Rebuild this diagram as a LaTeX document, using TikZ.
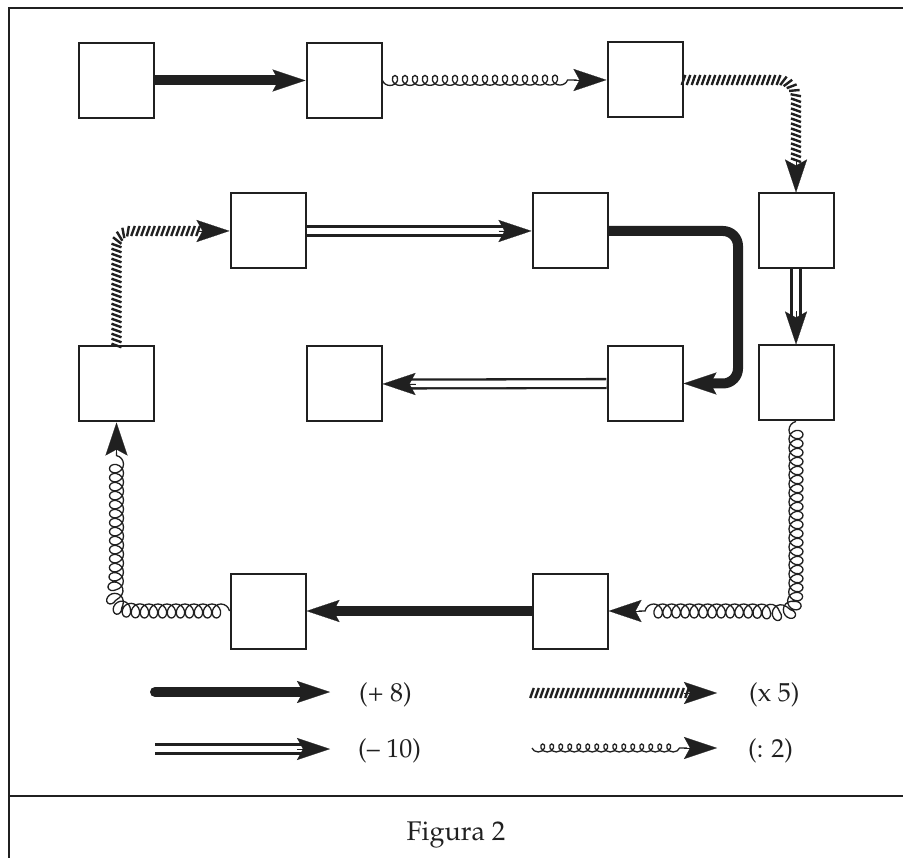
\documentclass[tikz,border=0pt]{standalone}
\usepackage[T1]{fontenc}
\renewcommand{\rmdefault}{ppl}
\usetikzlibrary{arrows.meta,decorations.pathmorphing,decorations.markings,calc}

\definecolor{ink}{RGB}{32,32,32}

\begin{document}
\begin{tikzpicture}[x=1pt,y=-1pt,
  box/.style={draw=ink, line width=2pt, minimum width=75pt, minimum height=75pt,
              inner sep=0pt, fill=white},
  frameline/.style={draw=ink, line width=2pt},
  % (+ 8): heavy bar
  plus/.style={draw=ink, line width=10pt},
  % (- 10): hollow double bar
  dbl/.style={draw=ink, line width=2.3pt, double=white, double distance=6.5pt},
  % (: 2): spring
  coilA/.style={draw=ink, line width=1.3pt, decorate,
                decoration={coil, mirror, amplitude=5pt, segment length=10pt, aspect=1}},
  coilB/.style={draw=ink, line width=1.3pt, decorate,
                decoration={coil, mirror, amplitude=7pt, segment length=9pt, aspect=0.9}},
  coilC/.style={draw=ink, line width=1.3pt, decorate,
                decoration={coil, mirror, amplitude=4pt, segment length=9pt, aspect=1}},
  % (x 5): row of slanted strokes
  hatch/.style={decorate, decoration={markings,
                mark=between positions 0 and 1 step 5pt with
                {\draw[ink, line width=2.4pt] (-1.8pt,-5pt) -- (1.8pt,5pt);}}},
  tip/.style={draw=ink, fill=ink, line width=0.2pt,
              -{Stealth[length=33pt, width=22pt, inset=6pt]}},
  lbl/.style={text=ink, font=\fontsize{26}{30}\selectfont, inner sep=0pt},
  caption/.style={text=ink, font=\fontsize{27}{32}\selectfont, inner sep=0pt}
]
\useasboundingbox (0,0) rectangle (903,858);
\fill[white] (0,0) rectangle (903,858);

% frame and caption rule
\draw[frameline] (903,8) -- (9,8) -- (9,858);
\draw[frameline] (9,796) -- (903,796);

% boxes
\node[box] (b1)  at (116.5,80.5) {};
\node[box] (b2)  at (344,80.5) {};
\node[box] (b3)  at (645,80) {};
\node[box] (b4)  at (796,231) {};
\node[box] (b5)  at (796,383) {};
\node[box] (b6)  at (645,383.5) {};
\node[box] (b7)  at (570,231) {};
\node[box] (b8)  at (268,231) {};
\node[box] (b9)  at (116.5,384) {};
\node[box] (b10) at (344,384) {};
\node[box] (b11) at (268,611) {};
\node[box] (b12) at (570,611) {};

\coordinate (ec) at (738,0);
\coordinate (cR) at (b5.south |- b12.east);
\coordinate (cL) at (b11.west -| b9.south);

% b1 -> b2  (+ 8)
\draw[plus] (b1.east) -- ($(b2.west)+(-24,0)$);
\draw[tip] ($(b2.west)+(-33,0)$) -- (b2.west);

% b2 -> b3  (: 2)
\draw[coilA] (b2.east) -- ($(b3.west)+(-30,0)$);
\draw[tip] ($(b3.west)+(-33,0)$) -- (b3.west);

% b3 -> b4  (x 5)
\path[hatch, rounded corners=18pt] (b3.east) -- (b3.east -| b4.north)
      -- ($(b4.north)+(0,-30)$);
\draw[tip] ($(b4.north)+(0,-33)$) -- (b4.north);

% b4 -> b5  (- 10)
\draw[dbl] (b4.south) -- ($(b5.north)+(0,-25)$);
\draw[tip] ($(b5.north)+(0,-33)$) -- (b5.north);

% b5 -> b12  (: 2)
\draw[coilB] (b5.south) -- ($(cR)+(0,-42)$) .. controls (cR) .. ($(cR)+(-42,0)$)
      -- ($(b12.east)+(30,0)$);
\draw[tip] ($(b12.east)+(33,0)$) -- (b12.east);

% b12 -> b11  (+ 8)
\draw[plus] (b12.west) -- ($(b11.east)+(24,0)$);
\draw[tip] ($(b11.east)+(33,0)$) -- (b11.east);

% b11 -> b9  (: 2)
\draw[coilB] (b11.west) -- ($(cL)+(42,0)$) .. controls (cL) .. ($(cL)+(0,-42)$)
      -- ($(b9.south)+(0,30)$);
\draw[tip] ($(b9.south)+(0,33)$) -- (b9.south);

% b9 -> b8  (x 5)
\path[hatch, rounded corners=14pt] (b9.north) -- (b9.north |- b8.west)
      -- ($(b8.west)+(-30,0)$);
\draw[tip] ($(b8.west)+(-33,0)$) -- (b8.west);

% b8 -> b7  (- 10)
\draw[dbl] (b8.east) -- ($(b7.west)+(-25,0)$);
\draw[tip] ($(b7.west)+(-33,0)$) -- (b7.west);

% b7 -> b6  (+ 8)
\draw[plus, rounded corners=15pt] (b7.east) -- (b7.east -| ec)
      -- (b6.east -| ec) -- ($(b6.east)+(24,0)$);
\draw[tip] ($(b6.east)+(33,0)$) -- (b6.east);

% b6 -> b10  (- 10)
\draw[dbl] (b6.west) -- ($(b10.east)+(25,0)$);
\draw[tip] ($(b10.east)+(33,0)$) -- (b10.east);

% legend
\coordinate (k1s) at (155,692);
\coordinate (k1e) at (330,692);
\coordinate (k2s) at (155,749);
\coordinate (k2e) at (330,749);
\coordinate (k3s) at (532,693);
\coordinate (k3e) at (717,693);
\coordinate (k4s) at (532,748);
\coordinate (k4e) at (717,748);

\draw[plus, line cap=round] (k1s) -- ($(k1e)+(-24,0)$);
\draw[tip] ($(k1e)+(-33,0)$) -- (k1e);
\draw[dbl] (k2s) -- ($(k2e)+(-25,0)$);
\draw[tip] ($(k2e)+(-33,0)$) -- (k2e);
\path[hatch] (k3s) -- ($(k3e)+(-30,0)$);
\draw[tip] ($(k3e)+(-33,0)$) -- (k3e);
\draw[coilC] (k4s) -- ($(k4e)+(-30,0)$);
\draw[tip] ($(k4e)+(-33,0)$) -- (k4e);

\node[lbl, anchor=base west] (t1) at (359,701) {(+ 8)};
\node[lbl, anchor=base west] (t2) at (358,757) {(-- 10)};
\node[lbl, anchor=base west] (t3) at (749,701) {(x 5)};
\node[lbl, anchor=base west] (t4) at (748,757) {(: 2)};

\node[caption, anchor=base] (cap) at (456,840) {Figura 2};
\end{tikzpicture}
\end{document}
